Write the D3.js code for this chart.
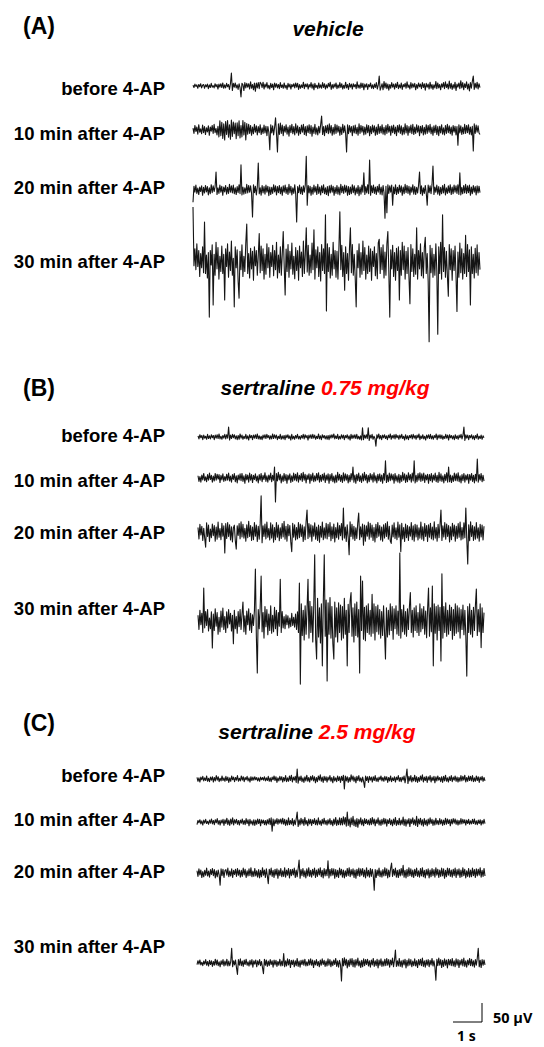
<!DOCTYPE html>
<html>
<head>
<meta charset="utf-8">
<script src="https://cdn.jsdelivr.net/npm/d3@7/dist/d3.min.js"></script>
<style>
  html, body { margin: 0; padding: 0; background: #fff; }
  svg { display: block; }
</style>
</head>
<body>
<script>
// ---------------- DATA ----------------
const panelLetters = ["(A)", "(B)", "(C)"];
const drugNames = ["vehicle", "sertraline", "sertraline"];
const doseLabels = ["", "0.75 mg/kg", "2.5 mg/kg"];
const stageLabels = ["before 4-AP", "10 min after 4-AP", "20 min after 4-AP", "30 min after 4-AP"];
const traceDuration = [0, 10];          // seconds per trace
const scaleBarVolt = 50;                // µV
const scaleBarTime = 1;                 // s
const scaleBarVoltLabel = "50 µV";
const scaleBarTimeLabel = "1 s";

// EEG amplitudes (µV) (300 samples per 10 s)
const vehicleBefore = [
  2,-4,5,-1,3,-6,4,-2,6,-5,2,4,-6,3,-2,
  5,-7,3,-4,7,-3,1,-5,6,-2,4,-8,5,-3,6,
  -4,8,-6,3,-5,7,-2,4,-9,6,34,-12,7,-3,8,
  -5,3,-9,6,-4,-29,7,4,-12,9,-5,7,-3,6,-8,
  11,-6,4,-10,8,-14,8,-5,9,-7,10,6,-4,10,-8,
  5,-3,9,-6,2,-8,7,-4,5,-10,8,-3,6,-5,4,
  -7,9,-4,3,-6,8,-5,2,-9,7,-3,5,-8,4,-2,
  6,-5,8,-3,7,-9,4,-6,3,-4,10,-7,5,-2,6,
  -8,4,-3,9,-6,5,-10,7,-4,2,-7,8,-5,3,-6,
  9,-4,6,-8,3,-5,7,-2,10,-9,4,-6,5,-3,8,
  -7,3,-5,9,-4,6,-8,2,-6,10,-5,4,-9,7,-3,
  5,-8,6,-2,4,-7,11,-5,3,-6,8,-4,7,-10,5,
  -3,6,-9,4,-2,8,-6,3,-7,5,-4,9,-8,2,26,
  -11,-3,6,-10,12,-5,8,-7,5,-11,4,-6,9,-3,5,
  -8,6,-4,10,-7,3,-5,8,-9,4,-2,7,-6,11,-4,
  3,-8,9,-5,6,-3,7,-10,4,-6,8,-2,5,-7,9,
  -4,6,-11,7,-3,5,-8,10,-6,4,-9,3,-5,12,-7,
  8,-5,4,-10,6,-3,9,-7,11,-4,5,-8,13,-6,7,
  -9,4,-6,10,-12,5,-3,8,-7,14,-5,9,-10,6,-4,
  11,-8,5,-13,9,-6,12,26,-9,7,-5,10,-8,6,-4
];
const vehicle10 = [
  5,-9,12,-4,8,-11,14,-6,3,-10,13,-7,9,-12,6,
  -5,11,-14,8,-3,12,-9,15,-7,4,-13,10,-18,24,-15,
  20,-22,16,-26,22,-12,25,-19,14,-24,26,-17,21,-10,18,
  -23,19,-15,24,-21,12,-18,25,-13,20,-26,17,-11,15,-9,
  12,-14,8,-10,15,-6,11,-13,9,-7,14,-12,6,-9,13,
  -8,10,-15,9,-6,-52,14,-8,11,-13,7,32,-10,-58,16,
  -12,18,-9,13,-15,10,-6,14,-11,8,-16,12,-7,15,-10,
  9,-13,16,-8,11,-14,7,-10,13,-6,15,-12,9,-15,11,
  -7,14,-10,12,-16,8,-9,15,-11,6,-13,10,-8,14,37,
  -12,9,-15,11,-7,13,-10,16,-8,12,-14,7,-11,15,-9,
  13,-6,10,-14,8,-12,15,-7,11,-9,-58,14,-10,12,-6,
  9,-15,11,-8,13,-10,7,-14,16,-9,12,-6,10,-13,8,
  -11,14,-7,12,-15,9,-10,13,-6,11,-14,8,-12,15,-9,
  10,-8,14,-11,7,-13,12,-9,15,-6,10,-14,11,-7,13,
  -10,8,-15,12,-6,14,-9,11,-13,7,-11,16,-8,12,-14,
  9,-7,13,-10,15,-12,8,-9,14,-6,11,-15,10,-8,12,
  -13,7,-11,14,-9,12,-6,15,-10,8,-14,11,-7,13,-12,
  9,-15,10,-8,14,-11,6,-13,12,-9,15,-7,11,-10,8,
  -14,12,-6,10,-13,9,-40,14,-8,11,-12,7,-10,15,-9,
  12,-7,14,-11,8,-13,10,-55,16,-9,13,-6,11,-8,-12
];
const vehicle20 = [
  -32,10,-6,13,-9,5,-12,8,-4,11,-14,7,-8,12,-5,
  9,-13,6,-10,14,-7,11,-4,8,47,-12,6,-9,13,-6,
  10,-14,8,-5,12,-11,7,-9,15,-6,11,-8,13,-10,6,
  -12,9,-7,14,-10,66,-13,8,-11,6,-9,15,-8,12,-6,
  11,-9,-71,14,-7,10,-13,8,71,-10,6,-14,12,-8,9,
  -11,13,-6,10,-15,8,-12,7,-9,14,-5,11,-13,9,-7,
  12,-10,8,-14,11,-6,13,-9,7,-12,15,-8,10,-13,6,
  -9,14,-11,-84,9,-7,13,-10,8,-12,11,-6,14,89,-40,
  12,-8,10,-14,7,-11,13,-6,9,-12,15,-9,8,-13,11,
  -7,14,-10,6,-12,9,-15,11,-8,13,-6,10,-14,7,-9,
  12,-11,8,-13,15,-7,10,-9,13,-6,11,-14,9,-12,8,
  -10,14,-7,11,-13,6,-9,12,-15,8,-11,13,-6,45,-12,
  9,-8,14,-10,79,-14,11,-7,13,-9,8,-12,10,-6,15,
  -11,8,-13,12,-7,-74,10,-60,14,-9,11,-6,13,-40,8,
  -10,14,-12,7,-9,13,-6,11,-14,8,-10,15,-7,12,-9,
  10,-13,8,-6,14,-11,9,-12,7,-8,13,47,-10,11,-14,
  6,-9,12,-8,-40,13,-7,11,-10,14,63,-12,8,-6,13,
  -11,9,-14,7,-10,12,-8,15,-13,6,-9,11,-7,14,-12,
  8,-10,13,-6,11,-9,14,-12,45,-13,7,-10,12,-8,15,
  -9,11,-7,13,-14,8,-10,12,-6,9,-13,11,-8,10,-7
];
const vehicle30 = [
  145,-10,35,-20,48,-12,30,-38,22,-15,40,-28,105,-30,18,
  -42,25,-145,30,-8,45,-113,20,-35,52,-18,38,-45,15,-25,
  42,-30,20,-100,35,-12,48,-40,26,-22,55,-35,10,-118,40,
  -15,32,-50,-95,28,-20,45,-38,15,-25,50,100,-30,22,-42,
  36,-18,28,-48,40,-10,30,-35,18,75,-28,42,-22,35,-45,
  20,-32,48,-15,38,-40,25,-12,44,-36,30,-20,52,-42,18,
  -28,40,-35,22,80,-10,-87,34,-25,46,-40,28,-18,50,-32,
  15,-44,38,-22,30,-48,42,-15,26,-38,55,-30,20,90,-26,
  44,-35,18,-28,50,-20,85,-45,32,-15,40,-38,25,-50,46,
  -22,35,-30,124,-129,48,-25,38,-42,20,-35,52,-18,30,-40,
  28,-45,36,132,-20,44,-38,25,-74,40,-30,22,-48,35,90,
  -28,46,-35,20,-42,-118,30,-15,48,-40,25,-32,55,-22,38,
  -45,18,-30,42,-25,35,-48,28,-12,40,-36,22,-44,50,60,
  -30,38,-20,45,-42,26,-35,48,80,-25,-145,32,-18,44,-38,
  25,-48,36,-22,40,-100,30,-35,52,-20,42,-45,28,-30,38,
  -40,-110,46,-25,35,-38,20,-32,90,-45,30,-18,48,-36,25,
  -42,38,65,-30,22,-50,-210,44,-28,36,-40,20,-35,48,-22,
  -190,40,-30,52,-45,124,-25,38,-40,28,-35,-90,46,-20,35,
  -48,30,-22,42,-36,-130,26,-40,50,-28,35,-45,22,-30,70,
  -38,46,-25,32,-113,40,-30,20,-42,36,-28,45,-35,25,-20
];
const sert075Before = [
  3,-5,6,-2,4,-7,5,-3,2,-6,7,-4,3,-5,6,
  -2,4,-7,5,-3,6,-4,8,-5,2,-6,4,-3,7,-5,
  6,-3,26,-8,5,-4,7,-2,6,-5,3,-7,4,-6,8,
  -3,5,-6,2,-4,7,-5,3,-8,6,-2,4,-7,5,-3,
  6,-4,8,-5,3,-6,2,-7,5,-3,6,-4,7,-2,4,
  -6,3,-5,8,-4,6,-3,5,-7,2,-4,7,-6,3,-5,
  4,-7,5,-2,6,-4,3,-8,7,-5,2,-6,4,-3,7,
  -5,2,-6,4,-3,7,-5,6,-2,4,-8,5,-3,6,-4,
  7,-3,5,-6,2,-4,8,-5,3,-7,6,-2,4,-5,3,
  -6,4,-7,5,-3,6,-2,8,-5,3,-4,7,-6,2,-5,
  6,-3,5,-7,4,-2,6,-5,3,-8,7,-4,5,-3,6,
  -4,7,-5,2,-6,3,-8,24,-7,5,-3,6,-4,24,-9,
  5,-3,7,-6,2,-4,-24,6,-3,8,-5,4,-7,5,-2,
  6,-4,3,-7,5,-2,8,-6,4,-3,6,-5,7,-2,4,
  -6,5,-3,7,-4,2,-8,6,-5,3,-7,4,-2,6,-5,
  7,-3,4,-6,5,-2,8,-7,3,-4,6,-5,2,-8,5,
  -3,6,-4,7,-5,3,-6,4,-2,8,-7,5,-3,6,-4,
  5,-6,2,-4,7,-3,5,-8,6,-2,4,-5,3,-7,6,
  -4,3,-6,5,-2,7,-5,4,26,-9,6,-3,5,-7,4,
  -2,6,-5,3,-7,4,-3,8,-6,2,-4,5,-6,3,-2
];
const sert07510 = [
  6,-9,4,-11,8,-5,12,-7,3,-10,9,-6,13,-4,7,
  -11,5,-8,12,-6,10,-3,9,-12,7,-5,11,-9,4,-7,
  10,-6,13,-8,5,-11,9,-4,12,-10,6,-13,8,-5,11,
  -7,12,-9,6,-14,10,-5,8,-11,13,-6,9,-12,7,-4,
  11,-8,5,-13,9,-6,12,-10,7,-4,14,-9,6,-11,8,
  -5,13,-10,7,-6,29,-63,12,-8,15,-5,10,-13,6,-9,
  12,-7,9,-14,8,-5,11,-12,6,-9,13,-6,10,-8,14,
  -11,7,-5,12,-9,15,-6,10,-13,8,-4,11,-14,9,-7,
  13,-10,6,-8,12,-5,14,-11,7,-9,10,-6,13,-12,8,
  -6,11,-14,9,-7,12,-10,5,-13,8,-11,15,-6,10,-9,
  7,-12,14,-8,11,-6,9,-13,7,-10,12,-5,29,-11,8,
  -14,10,-7,13,-9,6,-12,11,-8,15,-6,9,-13,7,-10,
  12,-5,9,-11,14,-8,6,-13,10,-7,11,-9,8,-14,12,
  -6,45,-12,8,-10,13,-7,11,-5,9,-14,12,-8,6,-11,
  10,-13,7,-9,15,-6,11,-12,8,-10,14,-5,9,-11,13,
  -8,45,-13,7,-10,12,-6,14,-9,11,-7,13,-12,8,-5,
  10,-14,9,-7,12,-11,8,-6,13,-10,7,-12,15,-8,11,
  -9,6,-13,10,-7,14,-11,29,-10,8,-12,6,-9,13,-7,
  11,-8,14,-10,6,-13,9,-7,12,-11,8,-5,10,-14,9,
  -6,12,-9,7,-13,10,-8,50,-11,9,-6,12,-10,7,-8
];
const sert07520 = [
  12,-18,20,-8,15,-22,10,-16,-40,24,-12,18,-25,8,-15,
  21,-10,17,-24,13,-19,26,-14,9,-20,23,-11,16,-55,22,
  -17,25,-12,19,-21,14,-26,11,18,-23,-45,16,-9,22,-18,
  27,-13,20,-16,10,-24,19,-15,28,-12,17,-22,13,-20,25,
  -11,18,-25,15,-19,22,95,-28,16,-12,21,-18,26,-14,9,
  -21,24,-16,19,-27,12,-20,25,-14,18,-23,11,-17,22,-13,
  28,-19,15,-24,20,-10,17,-26,-52,23,-14,19,-21,12,-18,
  25,-15,21,-12,18,-25,14,-20,27,58,-17,22,-13,19,-24,
  16,-11,24,-19,13,-22,18,-27,15,-14,26,-20,11,-16,23,
  -18,20,-12,25,-23,14,-17,21,-26,12,-15,24,-19,17,-10,
  22,-21,63,-16,13,-25,19,-14,-60,27,-12,20,-18,15,-22,
  11,-17,24,50,-20,14,-13,21,-35,18,-24,16,-11,26,-19,
  23,-14,18,-22,12,-26,20,-15,25,-11,17,-21,13,-24,19,
  -16,22,-12,27,-19,15,-23,-30,18,-13,24,-17,11,-20,26,
  -14,19,-52,23,-18,12,-25,21,-15,17,-22,14,-11,25,-20,
  16,-24,20,-13,18,-21,11,-16,26,-19,14,-23,22,-12,17,
  -25,19,-14,23,-18,13,-21,27,-16,12,-24,20,-15,18,58,
  -22,16,-13,25,-19,21,-12,17,-26,14,-20,23,-11,18,-24,
  15,-17,22,-14,26,-21,12,-18,24,-15,63,-20,-84,19,-23,
  27,-12,17,-22,14,-19,25,-16,11,-24,20,-13,18,-21,15
];
const sert07530 = [
  15,-22,28,-10,20,-30,87,-18,25,-12,30,-26,8,-20,24,
  -71,18,-25,32,-14,22,-35,10,-28,26,-16,34,-22,12,-30,
  24,-18,30,-8,20,-26,15,-60,28,-20,12,-32,25,-15,30,
  -22,18,50,-28,14,-35,26,-10,32,-24,20,-30,16,-12,28,
  137,-40,-137,30,-20,35,118,-28,22,-45,38,-15,30,-36,18,
  -25,40,-32,15,-28,36,-20,28,-38,22,-14,110,-30,25,-18,
  12,-20,16,-10,14,-18,8,-15,20,-12,10,-16,18,-22,24,
  -30,100,-166,45,-38,28,-50,40,-35,30,110,-45,52,-30,38,
  -55,40,174,-48,-100,60,-42,35,-58,45,-118,50,174,-40,55,
  -158,48,-35,62,-45,38,-60,-100,50,-42,35,-55,48,-30,42,
  -50,38,-45,60,-35,28,-118,44,-30,52,75,-40,35,-55,45,
  -38,50,-42,30,-137,118,-25,105,-48,36,-52,40,-30,45,-35,
  28,-40,70,-32,45,-50,38,-28,42,-35,30,-45,25,-38,40,
  -30,-100,35,-42,28,-36,45,-25,38,-48,32,-20,40,-34,26,
  -38,179,-45,30,-28,42,-35,25,-40,32,-22,36,75,-30,28,
  -42,35,-25,40,-30,22,-38,45,-28,32,-20,38,-35,26,-44,
  30,87,-40,35,-28,92,-118,45,-32,38,-50,42,-25,36,-105,
  124,-45,38,-30,48,-40,28,-35,42,-25,36,-48,30,-38,45,
  -32,40,-28,35,-45,30,-22,42,-36,28,-40,-145,38,-30,45,
  -35,28,-42,36,-25,40,84,-38,30,-28,45,-70,35,-30,22
];
const sert25Before = [
  4,-6,3,-8,5,-2,7,-5,3,-4,8,-6,2,-7,5,
  -3,6,-8,4,-5,9,-3,6,-7,2,-5,8,-4,3,-6,
  7,-4,5,-9,3,-6,8,-2,5,-7,4,-3,9,-6,2,
  -5,8,-3,6,-7,4,-2,7,-5,3,-8,6,-4,5,-3,
  6,-2,4,-5,3,-6,5,-2,4,-3,6,-5,3,-4,7,
  -6,3,-7,5,-2,8,-4,6,-9,3,-5,7,-3,6,-8,
  4,-5,9,-7,3,-6,8,-4,10,-8,5,-3,7,-9,26,
  -11,6,-4,8,-7,3,-9,6,-5,10,-6,4,-8,7,-3,
  9,-5,6,-10,4,-7,8,-3,11,-6,5,-9,7,-4,6,
  -8,5,-3,9,-6,4,-10,7,-5,3,-7,8,-4,6,-9,
  7,-4,10,-26,8,-5,6,-9,4,-7,11,-3,8,-6,5,
  -10,7,-4,9,-6,3,-8,5,-7,-22,8,-4,6,-9,7,
  -3,5,-8,6,-4,9,-6,3,-7,5,-2,8,-5,4,-6,
  7,-3,6,-9,4,-5,8,-7,3,-4,6,-8,5,-2,9,
  -6,4,-7,5,-3,8,-10,6,26,-12,7,-5,9,-8,4,
  -5,10,-7,6,-9,4,-6,8,-3,11,-8,5,-4,7,-9,
  6,-3,9,-8,5,-4,7,-10,6,-5,8,-3,4,-7,6,
  -9,7,-5,10,-6,3,-8,6,-4,9,-7,5,-3,8,-6,
  5,-8,4,-6,9,-5,7,-3,10,-8,4,-6,8,-4,7,
  -5,9,-7,3,-6,8,-4,6,-9,5,-3,7,-6,4,-5
];
const sert2510 = [
  -7,4,-2,6,-5,3,-8,5,-3,7,-4,2,-6,5,-3,
  8,-5,4,-7,6,-2,9,-6,4,-8,5,-3,7,-9,6,
  -4,10,-7,5,-9,8,-5,11,-8,6,-3,7,-6,4,-8,
  5,-3,8,-6,4,-7,9,-4,6,-10,7,-5,3,-8,6,
  -9,5,-6,8,-4,7,-10,6,-3,5,-7,4,-8,6,-5,
  9,-7,11,-24,8,-10,6,-4,9,-6,7,-3,8,-5,10,
  -6,7,-9,5,-8,11,-7,4,-6,9,-10,5,-7,8,26,
  -12,6,-8,10,-5,7,-9,12,-6,4,-10,8,-5,7,-9,
  6,-4,9,-7,5,-8,11,-6,3,-9,7,-5,10,-6,4,
  -8,6,-5,9,-7,4,-10,8,-6,12,-9,5,-7,11,-8,
  10,-8,14,-6,12,-11,26,-9,8,-13,11,-7,15,-10,6,
  -12,9,-14,7,-5,11,-8,6,-10,9,-4,7,-6,5,-8,
  9,-7,12,-5,8,-10,6,-4,11,-8,5,-9,7,-6,10,
  -5,8,-11,6,-4,9,-7,5,-10,8,-6,12,-9,4,-7,
  10,-8,5,-6,13,-9,7,-11,6,-5,9,-12,8,-4,11,
  -7,6,-9,15,-12,8,-5,10,-8,6,-11,9,-7,5,-10,
  8,-6,11,-4,7,-9,5,-8,10,-6,4,-7,9,-5,6,
  -9,5,-7,10,-6,8,-4,6,-10,7,-5,9,-3,8,-6,
  5,-8,4,-6,9,-5,7,-3,6,-8,5,-4,7,-6,3,
  -5,7,-4,8,-6,3,-7,5,-4,6,-8,4,-5,7,-4
];
const sert2520 = [
  6,-9,11,-5,8,-12,4,-10,7,-6,13,-8,5,-11,9,
  -4,12,-7,9,-13,6,-10,8,-5,-32,11,-7,10,-12,6,
  9,-6,13,-10,5,-8,11,-12,7,-4,10,-9,12,-6,8,
  -11,7,-9,13,-5,10,-12,6,-8,11,-7,14,-10,5,-9,
  12,-8,6,-11,9,-13,7,-10,14,-6,8,-12,11,-7,-28,
  10,-5,13,-9,7,-12,10,-6,11,-14,8,-7,12,-10,6,
  -9,14,-11,8,-6,12,-13,9,-7,10,-5,13,-12,8,-10,
  11,34,-14,9,-7,12,-10,6,-13,11,-8,14,-9,7,-11,
  10,-6,13,-12,8,-9,11,-5,14,-10,7,-13,12,-8,9,
  -7,32,-13,10,-8,12,-6,11,-14,9,-10,7,-12,13,-5,
  10,-11,8,-13,6,-9,12,-7,14,-10,9,-6,11,-12,8,
  -14,10,-7,13,-9,11,-6,12,-10,8,-13,14,-8,7,-11,
  12,-9,10,-6,-45,9,-12,8,-7,13,-10,6,-11,9,-8,
  14,-7,11,-13,8,-10,12,26,-9,10,-6,13,-11,7,-12,
  9,-8,12,-6,20,-11,7,-13,10,-9,14,-7,11,-10,8,
  -12,10,-7,13,-9,6,-11,12,-8,14,-10,7,-13,9,-6,
  11,-13,8,-10,12,-7,9,-11,14,-6,10,-12,8,-9,13,
  -8,11,-14,7,-10,13,-6,12,-9,8,-11,10,-7,13,-12,
  9,-6,11,-12,8,-10,14,-7,10,-13,6,-9,12,-11,8,
  -10,13,-7,9,-12,11,-8,10,-6,14,-11,7,-9,12,-8
];
const sert2530 = [
  -4,6,-3,8,-5,2,-7,5,-3,9,-6,4,-8,7,-4,
  6,-9,4,-6,10,-5,8,-7,3,-10,6,-4,9,-8,5,
  -6,10,-8,5,-7,3,39,-10,6,-5,8,-12,-30,9,-6,
  11,-7,5,-9,8,-4,10,-6,3,-8,7,-5,9,-11,6,
  -3,8,-10,6,-5,9,-7,4,-12,-28,10,-6,8,-9,5,
  -7,9,-4,6,-11,8,-5,7,-9,4,-6,10,-8,5,-7,
  25,-10,6,-8,11,-5,9,-12,7,-4,8,-10,6,-7,12,
  -9,5,-11,7,-4,8,-6,10,-8,3,-7,9,-5,11,-6,
  8,-12,6,-5,9,-7,4,-10,8,-6,11,-4,7,-9,5,
  -8,11,-6,9,-10,5,-7,8,-4,12,-9,6,-11,7,-5,
  -47,12,-8,14,-6,10,-13,7,-9,11,-5,12,-10,8,-11,
  9,-6,13,-8,5,-12,7,-10,11,-7,9,-4,10,-8,6,
  -11,8,-5,12,-9,6,-7,10,-13,8,-6,11,-9,5,-8,
  10,-7,12,-6,9,-11,8,-5,13,-10,7,34,-9,6,-8,
  12,-9,6,-11,8,-5,10,-13,7,-8,11,-6,9,-10,5,
  -7,11,-8,6,-12,9,-5,10,-7,13,-9,6,-11,8,-6,
  9,-10,7,-5,12,-8,6,-11,-45,10,-7,13,-6,9,-12,
  7,-9,11,-6,8,-13,10,-5,9,-7,12,-8,6,-10,11,
  -6,9,-12,7,-5,10,-8,13,-9,6,-11,8,-5,12,-7,
  10,-8,6,-11,9,-6,13,39,-10,7,-12,9,-6,8,-5
];

const panelTraces = [
  [vehicleBefore, vehicle10, vehicle20, vehicle30],
  [sert075Before, sert07510, sert07520, sert07530],
  [sert25Before, sert2510, sert2520, sert2530]
];

// ---------------- LAYOUT ----------------
const W = 544, H = 1047;
const pxPerUV = 19 / 50;       // from the 50 µV scale bar
const layout = [
  { x0: 193, x1: 480, letterY: 34, titleX: 328, titleY: 36,
    base: [86, 130, 190, 262], labelY: [95, 140, 194, 268] },
  { x0: 198, x1: 484, letterY: 396, titleX: 325, titleY: 395,
    base: [437, 478, 532, 621], labelY: [442, 487, 539, 615] },
  { x0: 197, x1: 485, letterY: 731, titleX: 317, titleY: 739,
    base: [779, 822, 873, 963], labelY: [782, 826, 878, 953] }
];

const svg = d3.select("body").append("svg")
  .attr("width", W).attr("height", H)
  .attr("viewBox", `0 0 ${W} ${H}`);

const sans = "'Liberation Sans', Arial, Helvetica, sans-serif";

panelTraces.forEach((traces, p) => {
  const L = layout[p];
  const g = svg.append("g");

  g.append("text")
    .attr("x", 23).attr("y", L.letterY)
    .attr("font-family", sans).attr("font-weight", "bold")
    .attr("font-size", 23).attr("fill", "#000")
    .text(panelLetters[p]);

  const title = g.append("text")
    .attr("x", L.titleX).attr("y", L.titleY)
    .attr("text-anchor", "middle")
    .attr("font-family", sans).attr("font-weight", "bold")
    .attr("font-style", "italic").attr("font-size", 21);
  title.append("tspan").attr("fill", "#000")
    .text(drugNames[p] + (doseLabels[p] ? " " : ""));
  if (doseLabels[p]) title.append("tspan").attr("fill", "#ff0000").text(doseLabels[p]);

  const x = d3.scaleLinear().domain(traceDuration).range([L.x0, L.x1]);

  traces.forEach((vals, k) => {
    g.append("text")
      .attr("x", 165).attr("y", L.labelY[k])
      .attr("text-anchor", "end")
      .attr("font-family", sans).attr("font-weight", "bold")
      .attr("font-size", 18.5).attr("fill", "#000")
      .text(stageLabels[k]);

    const y = d3.scaleLinear().domain([-100, 100])
      .range([L.base[k] + 100 * pxPerUV, L.base[k] - 100 * pxPerUV]);
    const n = vals.length;
    const line = d3.line()
      .x((d, i) => x(traceDuration[1] * i / (n - 1)))
      .y(d => y(d));
    g.append("path")
      .datum(vals)
      .attr("d", line)
      .attr("fill", "none")
      .attr("stroke", "#151515")
      .attr("stroke-width", 1.1)
      .attr("stroke-linejoin", "round");
  });
});

// ---------------- SCALE BAR ----------------
const sbX = d3.scaleLinear().domain([0, scaleBarTime]).range([453, 482]);
const sbY = d3.scaleLinear().domain([0, scaleBarVolt]).range([1022, 1003]);
svg.append("path")
  .attr("d", `M${sbX(0)},${sbY(0)}H${sbX(scaleBarTime)}V${sbY(scaleBarVolt)}`)
  .attr("fill", "none").attr("stroke", "#000").attr("stroke-width", 1);
svg.append("text")
  .attr("x", 493).attr("y", 1023)
  .attr("font-family", "'Open Sans', Lato, sans-serif").attr("font-weight", "bold")
  .attr("font-size", 14.5).attr("fill", "#000")
  .text(scaleBarVoltLabel);
svg.append("text")
  .attr("x", 457).attr("y", 1041)
  .attr("font-family", "'Open Sans', Lato, sans-serif").attr("font-weight", "bold")
  .attr("font-size", 14).attr("fill", "#000")
  .text(scaleBarTimeLabel);
</script>
</body>
</html>
